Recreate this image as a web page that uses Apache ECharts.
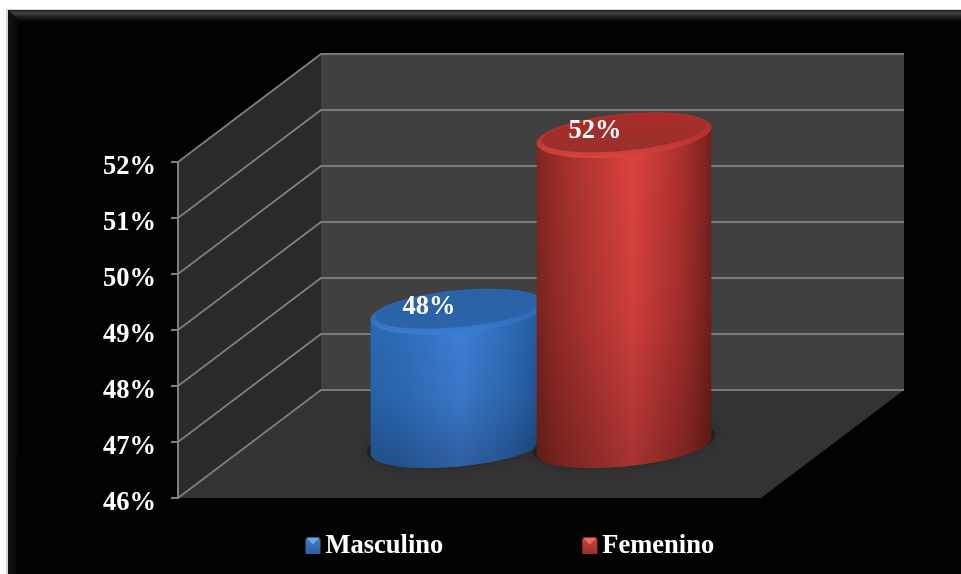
<!DOCTYPE html>
<html>
<head>
<meta charset="utf-8">
<style>html,body{margin:0;padding:0;background:#fff}#c{width:961px;height:574px}</style>
<script src="https://cdn.jsdelivr.net/npm/echarts@6/dist/echarts.min.js"></script>
</head>
<body>
<div id="c"></div>
<script>
const categories = ['Sexo'];
const seriesNames = ['Masculino', 'Femenino'];
const masculino = [48.4];
const femenino = [51.55];
const yTicks = [46, 47, 48, 49, 50, 51, 52];

const FONT = '"Liberation Serif","Times New Roman",serif';
const DEPTH_X = 143, DEPTH_Y = 108, FLOOR_SHIFT = 52;
const G = echarts.graphic;
const hGrad = (stops) => new G.LinearGradient(0, 0, 1, 0, stops.map(c => ({offset: c[0], color: c[1]})));
const vGrad = (stops) => new G.LinearGradient(0, 0, 0, 1, stops.map(c => ({offset: c[0], color: c[1]})));

function ellipsePoint(cx, cy, a, b, th, t) {
  return [cx + a * Math.cos(t) * Math.cos(th) + b * Math.sin(t) * Math.sin(th),
          cy - a * Math.cos(t) * Math.sin(th) + b * Math.sin(t) * Math.cos(th)];
}
function ellipsePts(cx, cy, a, b, th, t0, t1, n) {
  const pts = [];
  for (let i = 0; i <= n; i++) pts.push(ellipsePoint(cx, cy, a, b, th, t0 + (t1 - t0) * i / n));
  return pts;
}
const fullEll = (cx, cy, a, b, th) => ellipsePts(cx, cy, a, b, th, 0, Math.PI * 2, 72);

function renderWalls(params, api) {
  const cs = params.coordSys;
  const x0 = cs.x, x1 = cs.x + cs.width;
  const yBottom = api.coord([0, yTicks[0]])[1];
  const yTop = api.coord([0, yTicks[yTicks.length - 1]])[1];
  const children = [
    {type: 'polygon', shape: {points: [[x0, yBottom], [x0, yTop], [x0 + DEPTH_X, yTop - DEPTH_Y], [x0 + DEPTH_X, yBottom - DEPTH_Y]]},
     style: {fill: '#2a2a2a'}},
    {type: 'polygon', shape: {points: [[x0 + DEPTH_X, yTop - DEPTH_Y], [x1 + DEPTH_X, yTop - DEPTH_Y], [x1 + DEPTH_X, yBottom - DEPTH_Y], [x0 + DEPTH_X, yBottom - DEPTH_Y]]},
     style: {fill: '#404040'}},
    {type: 'polygon', shape: {points: [[x0, yBottom], [x1, yBottom], [x1 + DEPTH_X, yBottom - DEPTH_Y], [x0 + DEPTH_X, yBottom - DEPTH_Y]]},
     style: {fill: '#333333'}}
  ];
  yTicks.forEach(v => {
    const y = api.coord([0, v])[1];
    children.push({type: 'polyline',
      shape: {points: [[x0, y], [x0 + DEPTH_X, y - DEPTH_Y], [x1 + DEPTH_X, y - DEPTH_Y]]},
      style: {stroke: '#7a7a7a', lineWidth: 2, fill: 'none'}});
  });
  return {type: 'group', children};
}

function cylinder(offsetFrac, pal, labelText) {
  return function (params, api) {
    const top = api.coord([api.value(0), api.value(1)]);
    const base = api.coord([api.value(0), yTicks[0]]);
    const band = api.size([1, 0])[0];
    const cx = top[0] + DEPTH_X / 2 + offsetFrac * band;
    const a = band * 0.1505, b = 20.4, th = 5.5 * Math.PI / 180;
    const cyTop = top[1] - FLOOR_SHIFT, cyBase = base[1] - FLOOR_SHIFT;
    const t0 = Math.atan2(b * Math.sin(th), a * Math.cos(th));
    const rightTop = ellipsePoint(cx, cyTop, a, b, th, t0);
    const leftTop = ellipsePoint(cx, cyTop, a, b, th, t0 + Math.PI);
    const body = [rightTop].concat(ellipsePts(cx, cyBase, a, b, th, t0, t0 + Math.PI, 40), [leftTop]);
    return {type: 'group', children: [
      {type: 'polygon', shape: {points: fullEll(cx, cyBase - 3, a + 4, b + 2, th)},
       style: {fill: 'rgba(0,0,0,0.3)', shadowBlur: 14, shadowColor: 'rgba(0,0,0,0.75)'}},
      {type: 'polygon', shape: {points: body}, style: {fill: hGrad(pal.body)}},
      {type: 'polygon', shape: {points: body},
       style: {fill: vGrad([[0, 'rgba(0,0,0,0)'], [0.55, 'rgba(0,0,0,0.08)'], [1, 'rgba(0,0,0,0.26)']])}},
      {type: 'polygon', shape: {points: fullEll(cx, cyTop, a, b + 1, th)},
       style: {fill: vGrad(pal.rim)}},
      {type: 'polygon', shape: {points: fullEll(cx, cyTop - 2, a - 5, b - 3, th)},
       style: {fill: vGrad(pal.cap)}},
      {type: 'text', x: cx - 29, y: cyTop - 4,
       style: {text: labelText, fill: '#fff', font: 'bold 26.5px ' + FONT, align: 'center', verticalAlign: 'middle'}}
    ]};
  };
}

const bluePal = {
  body: [[0, '#2a69b6'], [0.18, '#2e6fbe'], [0.52, '#3f80d8'], [0.8, '#2e6cb8'], [1, '#1f5698']],
  rim: [[0, '#2a62a6'], [0.55, '#2e6ab4'], [1, '#3a7fd2']],
  cap: [[0, '#2a62a4'], [1, '#2b64a9']]
};
const redPal = {
  body: [[0, '#812521'], [0.14, '#a02f2a'], [0.55, '#de4440'], [0.85, '#a72f2b'], [1, '#74211d']],
  rim: [[0, '#ae2c28'], [0.55, '#b8332f'], [1, '#d9443e']],
  cap: [[0, '#a92c28'], [1, '#99302b']]
};
const pct = v => Math.round(v) + '%';

const chart = echarts.init(document.getElementById('c'), null, {renderer: 'canvas'});
chart.setOption({
  animation: false,
  backgroundColor: '#fff',
  grid: {left: 178, right: 200, top: 162, height: 336, containLabel: false},
  graphic: {elements: [
    {type: 'rect', z: -20, shape: {x: 6, y: 9, width: 955, height: 565}, style: {fill: '#d4d4d4'}},
    {type: 'rect', z: -19, shape: {x: 8, y: 10, width: 953, height: 564}, style: {fill: '#020202'}},
    {type: 'polygon', z: -18, shape: {points: [[8, 10], [961, 10], [961, 22], [20, 22]]},
     style: {fill: vGrad([[0, '#1c1c1c'], [0.25, '#424242'], [0.55, '#202020'], [1, '#020202']])}},
    {type: 'polygon', z: -18, shape: {points: [[8, 10], [20, 22], [16, 574], [8, 574]]},
     style: {fill: hGrad([[0, '#141414'], [1, '#020202']])}},
    {type: 'polygon', z: 100, shape: {points: [[306, 537.5], [320, 537.5], [313, 544.5]]}, style: {fill: '#64a8ee'}},
    {type: 'polygon', z: 100, shape: {points: [[582.5, 537.5], [597, 537.5], [589.7, 544.5]]}, style: {fill: '#ee6a62'}}
  ]},
  legend: {
    left: 305.5, top: 533, padding: 0, itemGap: 139, itemWidth: 15, itemHeight: 15,
    data: [
      {name: seriesNames[0], icon: 'rect', itemStyle: {color: vGrad([[0, '#3f7dc6'], [1, '#2c5e9c'] ])}},
      {name: seriesNames[1], icon: 'rect', itemStyle: {color: vGrad([[0, '#c8423c'], [1, '#96302c'] ])}}
    ],
    selectedMode: false,
    textStyle: {color: '#fff', fontFamily: FONT, fontWeight: 'bold', fontSize: 26.5}
  },
  xAxis: {type: 'category', data: categories, show: false},
  yAxis: {
    type: 'value', min: 46, max: 52, interval: 1, z: 5,
    axisLine: {show: true, lineStyle: {color: '#7f7f7f', width: 2}},
    axisTick: {show: true, length: 7, lineStyle: {color: '#7f7f7f', width: 2}},
    splitLine: {show: false},
    axisLabel: {formatter: '{value}%', color: '#fff', fontFamily: FONT, fontWeight: 'bold', fontSize: 26.5, margin: 22, verticalAlign: 'top', lineHeight: 10}
  },
  series: [
    {type: 'custom', name: 'Paredes', z: 1, silent: true, data: [[0, yTicks[0]]], renderItem: renderWalls,
     encode: {x: 0, y: 1}, clip: false},
    {type: 'custom', name: seriesNames[0], z: 3, data: masculino.map((v, i) => [i, v]),
     renderItem: cylinder(-83 / 583, bluePal, pct(masculino[0])), encode: {x: 0, y: 1}, itemStyle: {color: '#3a75c0'}},
    {type: 'custom', name: seriesNames[1], z: 4, data: femenino.map((v, i) => [i, v]),
     renderItem: cylinder(83 / 583, redPal, pct(femenino[0])), encode: {x: 0, y: 1}, itemStyle: {color: '#c0403a'}}
  ]
});
</script>
</body>
</html>
